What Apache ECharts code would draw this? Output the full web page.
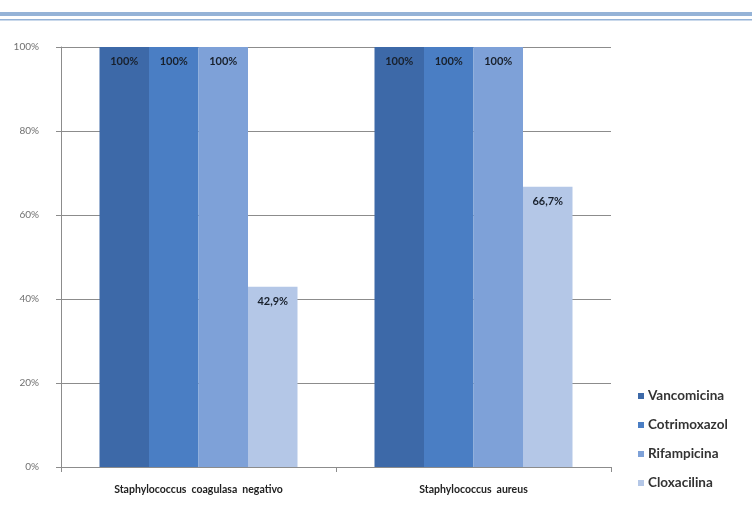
<!DOCTYPE html>
<html>
<head>
<meta charset="utf-8">
<script src="https://cdn.jsdelivr.net/npm/echarts@6/dist/echarts.min.js"></script>
<style>
  html, body { margin: 0; padding: 0; background: #ffffff; }
  #chart { width: 755px; height: 523px; }
</style>
</head>
<body>
<div id="chart"></div>
<script>
// Categories (bacteria) and susceptibility percentages per antibiotic
var categories = ['Staphylococcus  coagulasa  negativo', 'Staphylococcus  aureus'];
var seriesNames = ['Vancomicina', 'Cotrimoxazol', 'Rifampicina', 'Cloxacilina'];
var vancomicina = [100, 100];
var cotrimoxazol = [100, 100];
var rifampicina = [100, 100];
var cloxacilina = [42.9, 66.7];
var yTicks = [0, 20, 40, 60, 80, 100];

var colors = ['#3d69a8', '#4a7ec4', '#7ea1d8', '#b4c7e7'];
var values = [vancomicina, cotrimoxazol, rifampicina, cloxacilina];

function pct(v) {
  return (Math.round(v * 10) / 10).toString().replace('.', ',') + '%';
}

var chart = echarts.init(document.getElementById('chart'), null, { renderer: 'canvas' });

var series = seriesNames.map(function (name, i) {
  return {
    name: name,
    type: 'bar',
    data: values[i],
    barGap: '0%',
    barCategoryGap: '28%',
    itemStyle: { color: colors[i] },
    label: {
      show: true,
      position: 'insideTop',
      distance: 9,
      formatter: function (p) { return pct(p.value); },
      color: '#18202c',
      fontFamily: 'Lato',
      fontWeight: 'bold',
      fontSize: 11
    }
  };
});

chart.setOption({
  animation: false,
  backgroundColor: '#ffffff',
  graphic: [
    { type: 'rect', left: 0, top: 12, shape: { width: 752, height: 4 }, style: { fill: '#95b3d7' } },
    { type: 'rect', left: 0, top: 19, shape: { width: 752, height: 1.5 }, style: { fill: '#95b3d7' } }
  ],
  legend: {
    orient: 'vertical',
    left: 633,
    top: 384,
    itemWidth: 6,
    itemHeight: 6,
    itemGap: 15,
    icon: 'rect',
    textStyle: {
      color: '#333333',
      fontFamily: 'Lato',
      fontWeight: 'bold',
      fontSize: 13.5,
      padding: [0, 0, 0, -1]
    },
    data: seriesNames
  },
  grid: { left: 61, right: 144, top: 47, bottom: 56, containLabel: false },
  xAxis: {
    type: 'category',
    data: categories,
    axisLine: { show: true, lineStyle: { color: '#8c8c8c', width: 1 } },
    axisTick: { show: true, length: 5, alignWithLabel: false, lineStyle: { color: '#8c8c8c' } },
    axisLabel: {
      color: '#222222',
      fontFamily: 'Lato',
      fontWeight: 'bold',
      fontSize: 10.5,
      margin: 17
    }
  },
  yAxis: {
    type: 'value',
    min: yTicks[0],
    max: yTicks[yTicks.length - 1],
    interval: 20,
    axisLine: { show: true, lineStyle: { color: '#8c8c8c', width: 1 } },
    axisTick: { show: true, length: 5, lineStyle: { color: '#8c8c8c' } },
    splitLine: { show: true, lineStyle: { color: '#8c8c8c', width: 1 } },
    axisLabel: {
      formatter: '{value}%',
      color: '#707070',
      fontFamily: 'Lato',
      fontSize: 10,
      margin: 22
    }
  },
  series: series
});
</script>
</body>
</html>
